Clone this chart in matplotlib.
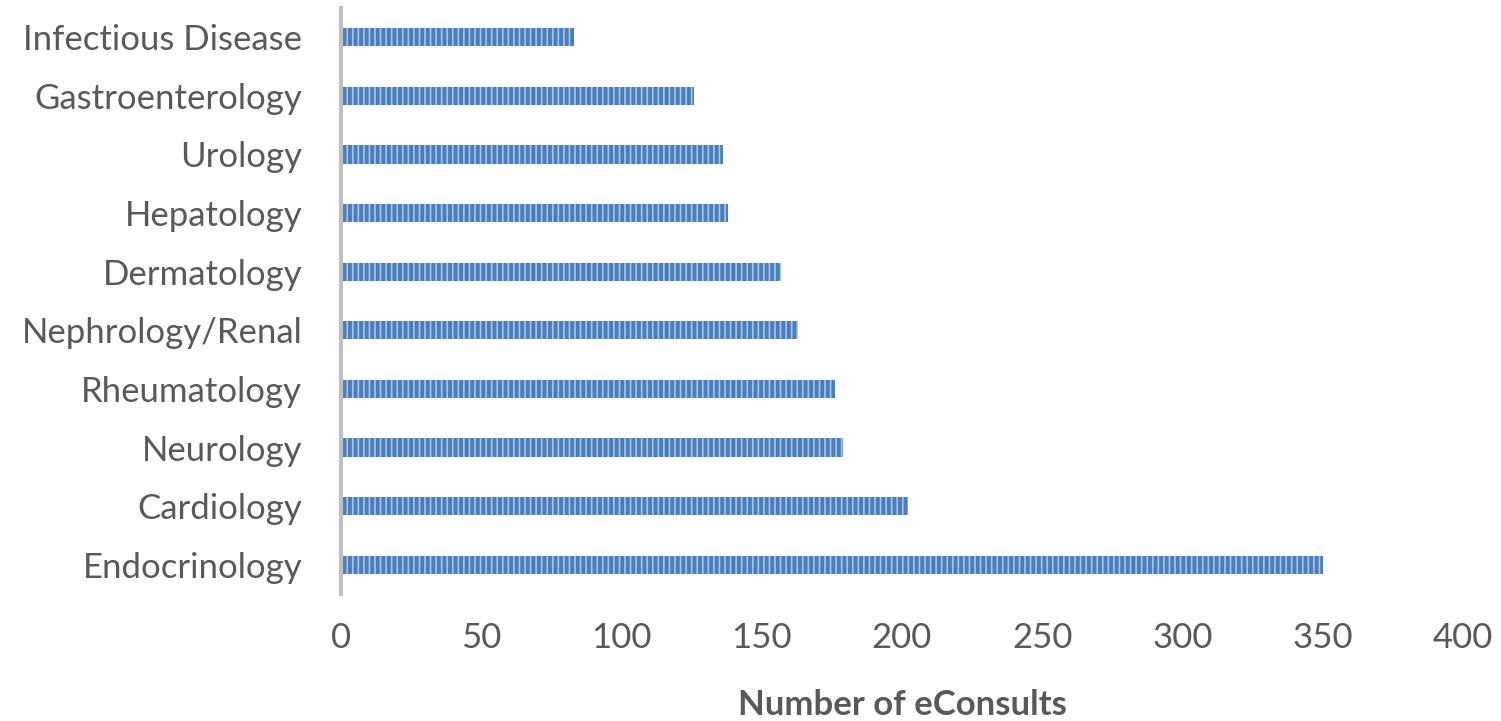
import matplotlib.pyplot as plt

plt.switch_backend('Agg')
plt.rcParams['font.family'] = ['Lato', 'DejaVu Sans']
plt.rcParams['hatch.linewidth'] = 1.2

specialties = ["Endocrinology", "Cardiology", "Neurology", "Rheumatology",
               "Nephrology/Renal", "Dermatology", "Hepatology", "Urology",
               "Gastroenterology", "Infectious Disease"]
econsults = [350, 202, 179, 176, 163, 157, 138, 136, 126, 83]


def main():
    fig = plt.figure(figsize=(15.01, 7.21), dpi=100)
    ax = fig.add_axes([0.2272, 0.176, 0.7475, 0.813])

    ax.barh(specialties, econsults, height=0.31, color='#4a7ebb',
            edgecolor='#a9c4e8', hatch='|||', linewidth=0)

    ax.set_xlim(0, 400)
    ax.set_ylim(-0.5, 9.5)
    ax.set_xticks(range(0, 401, 50))
    ax.tick_params(axis='both', length=0, labelsize=25, colors='#595959')
    ax.tick_params(axis='x', pad=20)
    ax.tick_params(axis='y', pad=28)
    for s in ['top', 'right', 'bottom']:
        ax.spines[s].set_visible(False)
    ax.spines['left'].set_color('#bfbfbf')
    ax.spines['left'].set_linewidth(3)

    ax.set_xlabel("Number of eConsults", fontsize=25, fontweight='bold',
                  color='#595959', labelpad=25)

    fig.savefig('out.png', dpi=100)
    plt.close(fig)


if __name__ == '__main__':
    main()
